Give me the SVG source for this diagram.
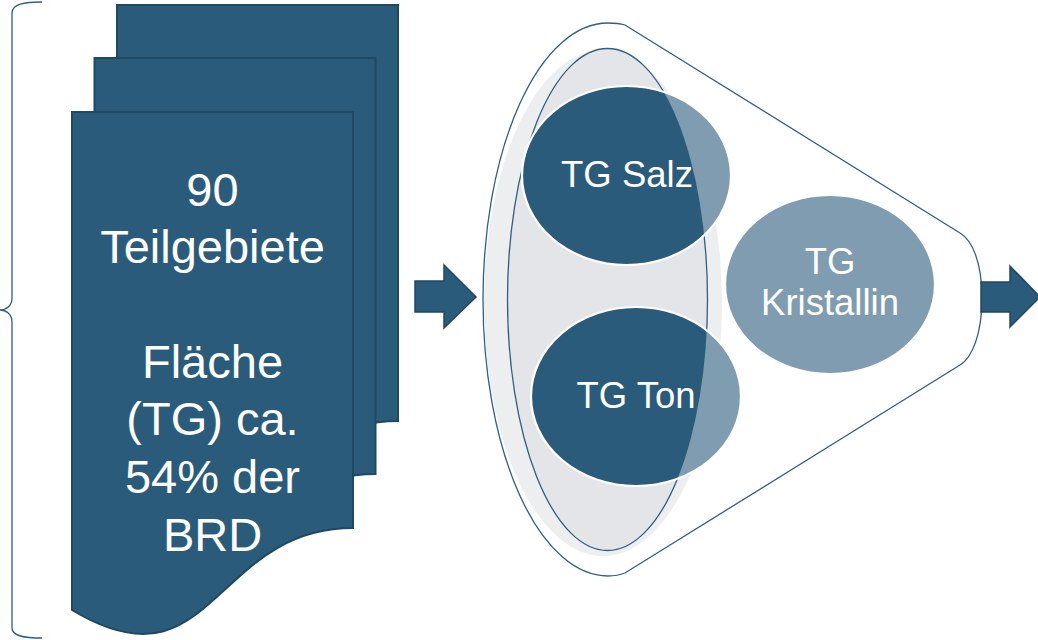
<svg xmlns="http://www.w3.org/2000/svg" width="1038" height="640" viewBox="0 0 1038 640">
<style>
.doc{fill:#2B5B7B;stroke:#1F4863;stroke-width:2}
.arrow{fill:#2B5B7B;stroke:#1F4863;stroke-width:1.5}
.line{fill:none;stroke:#2F5F80;stroke-width:1.3}
.dtxt{font-family:"Liberation Sans",Arial,sans-serif;font-size:47px;fill:#FFFFFF;text-anchor:middle}
.etxt{font-family:"Liberation Sans",Arial,sans-serif;font-size:36.5px;fill:#FFFFFF;text-anchor:middle}
.light{fill:#7F9CB1}
.dark{fill:#2B5B7B}
.ring{fill:none;stroke:#FFFFFF;stroke-width:2.2}
</style>
<defs>
<path id="docshape" d="M 72,112 L 353,112 L 353,528 C 212.5,528 212.5,695 72,610 Z"/>
<clipPath id="innerClip"><ellipse cx="607.5" cy="299.5" rx="100" ry="251"/></clipPath>
</defs>
<rect x="0" y="0" width="1038" height="640" fill="#FFFFFF"/>

<g id="brace">
<path class="line" stroke="#4F7896" d="M 42,2 C 24,2 12,4 12,13 L 12,298 C 12,306 6,310 0,310 C 6,310 12,314 12,322 L 12,628 C 12,636 24,638 42,638"/>
</g>

<g id="documents">
<use href="#docshape" class="doc" transform="translate(45,-107)"/>
<use href="#docshape" class="doc" transform="translate(22.5,-54)"/>
<use href="#docshape" class="doc"/>
<text class="dtxt" x="212.5" y="206">90</text>
<text class="dtxt" x="212.5" y="263">Teilgebiete</text>
<text class="dtxt" x="212.5" y="378">Fläche</text>
<text class="dtxt" x="212.5" y="435">(TG) ca.</text>
<text class="dtxt" x="212.5" y="493">54% der</text>
<text class="dtxt" x="212.5" y="551">BRD</text>
</g>

<g id="connectors">
<polygon class="arrow" points="415,281 444,281 444,265 476,297 444,328 444,312 415,312"/>
</g>

<g id="funnel">
<path class="line" style="fill:#FFFFFF" d="M 625,25 L 960,233 C 972,240 982,262 982,298 C 982,334 972,358 960,365 L 625,573 C 620,575 614,576 608,576 A 125 276.5 0 0 1 608,23 C 614,23 620,23.5 625,25 Z"/>
<ellipse cx="603" cy="303" rx="119" ry="253" fill="#EDEEF0"/>
<ellipse cx="607.5" cy="299.5" rx="100" ry="251" fill="#E4E5E8" stroke="#2F5F80" stroke-width="1.3"/>
</g>

<g id="tg-salz">
<ellipse class="light" cx="626.5" cy="175.5" rx="104.5" ry="89.5"/>
<ellipse class="dark" cx="626.5" cy="175.5" rx="104.5" ry="89.5" clip-path="url(#innerClip)"/>
<ellipse class="ring" cx="626.5" cy="175.5" rx="104.5" ry="89.5"/>
<text class="etxt" x="627" y="187">TG Salz</text>
</g>

<g id="tg-ton">
<ellipse class="light" cx="636" cy="396.5" rx="105" ry="89.5"/>
<ellipse class="dark" cx="636" cy="396.5" rx="105" ry="89.5" clip-path="url(#innerClip)"/>
<ellipse class="ring" cx="636" cy="396.5" rx="105" ry="89.5"/>
<text class="etxt" x="636" y="408">TG Ton</text>
</g>

<g id="tg-kristallin">
<ellipse class="light" cx="830" cy="284.5" rx="105" ry="89.5"/>
<ellipse class="ring" cx="830" cy="284.5" rx="105" ry="89.5"/>
<text class="etxt" x="830" y="274">TG</text>
<text class="etxt" x="830" y="315">Kristallin</text>
</g>

<g id="connectors-out">
<polygon class="arrow" points="981,282 1010,282 1010,266 1040,297 1010,327 1010,312 981,312"/>
</g>
</svg>
